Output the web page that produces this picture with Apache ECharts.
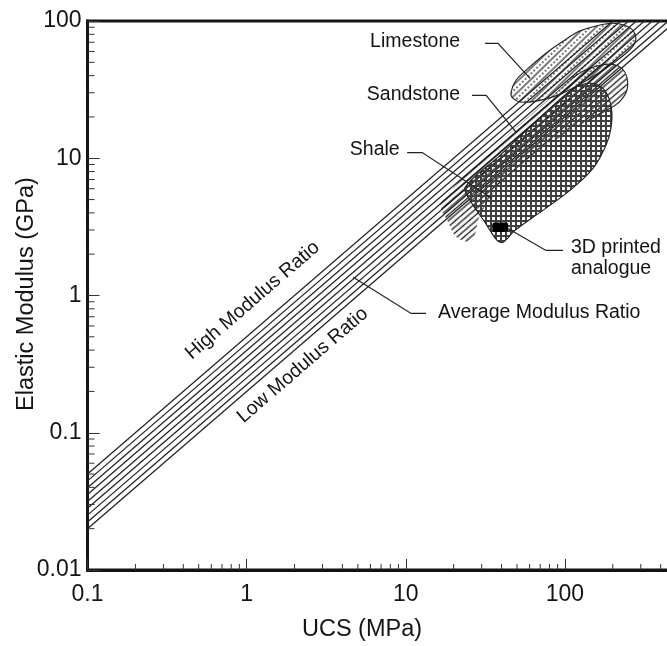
<!DOCTYPE html>
<html>
<head>
<meta charset="utf-8">
<title>Elastic modulus vs UCS</title>
<script src="https://cdn.jsdelivr.net/npm/echarts@6/dist/echarts.min.js"></script>
<style>
  html, body { margin: 0; padding: 0; background: #ffffff; }
  #chart { width: 667px; height: 646px; }
</style>
</head>
<body>
<div id="chart"></div>
<script>
// ---- axes -------------------------------------------------------------
const xTicks = [0.1, 1, 10, 100, 1000];
const xTickLabels = ['0.1', '1', '10', '100', '1000'];
const yTicks = [0.01, 0.1, 1, 10, 100];
const yTickLabels = ['0.01', '0.1', '1', '10', '100'];
const xMinorTicks = [0.2, 0.3, 0.4, 0.5, 0.6, 0.7, 0.8, 0.9,
                     2, 3, 4, 5, 6, 7, 8, 9,
                     20, 30, 40, 50, 60, 70, 80, 90,
                     200, 300, 400, 500, 600, 700, 800, 900];
const yMinorTicks = [0.02, 0.03, 0.04, 0.05, 0.06, 0.07, 0.08, 0.09,
                     0.2, 0.3, 0.4, 0.5, 0.6, 0.7, 0.8, 0.9,
                     2, 3, 4, 5, 6, 7, 8, 9,
                     20, 30, 40, 50, 60, 70, 80, 90];

// ---- modulus ratio band (E / UCS), high 500 down to low 200 -------------
const modulusRatios = [500, 446, 398, 355, 316, 282, 251, 224, 200];

// ---- rock fields: outlines as [UCS (MPa), E (GPa)] ----------------------
const limestoneOutline = [
  [45.9, 30.2], [49.3, 37.0], [58.7, 45.2], [76.1, 58.2], [97.3, 71.1],
  [122.6, 84.1], [154.5, 91.5], [197.6, 96.2], [238.4, 93.0], [267.6, 85.5],
  [279.5, 74.8], [267.6, 65.4], [221.8, 53.5], [166.1, 42.3], [124.4, 34.6],
  [93.2, 29.2], [69.8, 26.4], [53.8, 25.6], [47.2, 27.3]
];
const sandstoneOutline = [
  [16.9, 4.93], [110.8, 38.2], [133.8, 43.7], [166.1, 47.6], [200.4, 48.3],
  [228.3, 45.2], [245.4, 38.9], [245.4, 31.3], [221.8, 26.0], [191.9, 23.1],
  [133.8, 18.3], [69.8, 11.4], [39.1, 6.35], [29.3, 3.84], [26.1, 2.52],
  [21.3, 2.61], [18.5, 3.41]
];
const shaleOutline = [
  [23.6, 6.14], [39.1, 10.5], [64.9, 18.3], [104.6, 30.2], [124.4, 34.0],
  [148.0, 35.1], [173.5, 32.3], [189.2, 27.3], [197.6, 21.6], [194.7, 16.5],
  [181.1, 12.4], [150.2, 8.44], [107.6, 5.83], [69.8, 4.03], [48.6, 2.98],
  [40.9, 2.44], [37.5, 2.52], [31.5, 3.41], [25.4, 4.93]
];
// 3D printed analogue: UCS range and modulus range
const analogueUCS = [35, 44];
const analogueE = [2.9, 3.4];

// ---- annotations ---------------------------------------------------------
const calloutText = ['Limestone', 'Sandstone', 'Shale', '3D printed\nanalogue', 'Average Modulus Ratio'];
const calloutAnchor = [[21.95, 71.1], [21.95, 29.2], [9.16, 11.6], [109.2, 1.88], [15.97, 0.753]];
const calloutAlign = ['right', 'right', 'right', 'left', 'left'];
const calloutLeaders = [
  [[31.5, 68.8], [38.0, 68.8], [60.4, 38.2]],
  [[26.1, 28.7], [32.0, 28.7], [49.3, 15.5]],
  [[10.2, 11.0], [12.7, 11.0], [34.9, 5.1]],
  [[43.9, 3.08], [76.1, 2.13], [97.3, 2.13]],
  [[4.68, 1.36], [10.8, 0.74], [13.4, 0.74]]
];
const bandLabelText = ['High Modulus Ratio', 'Low Modulus Ratio'];
const bandLabelAnchor = [[1.09, 0.92], [2.25, 0.31]];

// ---- layout & style -------------------------------------------------------
const FONT = '"Liberation Sans", Arial, Helvetica, sans-serif';
const INK = '#141414';
const GRID = { left: 87.5, top: 21, width: 636.5, height: 549 };
const DECADES_X = Math.log10(xTicks[xTicks.length - 1] / xTicks[0]);
const DECADES_Y = Math.log10(yTicks[yTicks.length - 1] / yTicks[0]);
// on-screen angle of a constant-ratio line (slope 1 in log-log)
const HATCH_ANGLE = Math.atan((GRID.height / DECADES_Y) / (GRID.width / DECADES_X));

function lineTile(period, lines) {
  const c = document.createElement('canvas');
  c.width = 24; c.height = period;
  const g = c.getContext('2d');
  lines.forEach(l => {
    g.beginPath();
    g.strokeStyle = l.color;
    g.lineWidth = l.width;
    g.setLineDash(l.dash || []);
    g.moveTo(0, l.y); g.lineTo(24, l.y);
    g.stroke();
  });
  return c;
}
function meshTile(cell, w, color) {
  const c = document.createElement('canvas');
  c.width = cell; c.height = cell;
  const g = c.getContext('2d');
  g.fillStyle = color;
  g.fillRect(0, 0, cell, w);
  g.fillRect(0, 0, w, cell);
  return c;
}

const sandstoneFill = {
  image: lineTile(9, [{ y: 1, width: 1.3, color: '#161616' }, { y: 5.5, width: 1.3, color: '#161616' }]),
  repeat: 'repeat', rotation: -HATCH_ANGLE
};
const limestoneFill = {
  image: lineTile(8, [{ y: 1, width: 1.2, color: '#202020' }, { y: 5, width: 1.2, color: '#202020', dash: [2, 2] }]),
  repeat: 'repeat', rotation: -HATCH_ANGLE - 0.06, x: 2, y: 1
};
const shaleFill = { image: meshTile(5, 2, '#404040'), repeat: 'repeat' };

function tickLabel(v, ticks, labels) {
  for (let i = 0; i < ticks.length; i++) {
    if (Math.abs(Math.log10(v) - Math.log10(ticks[i])) < 1e-6) return labels[i];
  }
  return '';
}

// ---- series -------------------------------------------------------------
const bandSeries = modulusRatios.map(mr => ({
  type: 'line',
  name: 'MR ' + mr,
  data: [[xTicks[0], mr * xTicks[0] / 1000], [xTicks[xTicks.length - 1], mr * xTicks[xTicks.length - 1] / 1000]],
  symbol: 'none',
  silent: true,
  clip: true,
  z: 2,
  lineStyle: { color: '#222222', width: 1.25 }
}));

function fieldSeries(name, outline, fill, strokeRange, z) {
  return {
    type: 'custom',
    name: name,
    coordinateSystem: 'cartesian2d',
    silent: true,
    z: z,
    data: outline,
    renderItem(params, api) {
      if (params.dataIndex !== 0) return null;
      const pts = outline.map(p => api.coord(p));
      const children = [{
        type: 'polygon',
        shape: { points: pts, smooth: 0.35 },
        style: { fill: fill, stroke: strokeRange ? null : '#222', lineWidth: 1.1 }
      }];
      if (strokeRange) {
        children.push({
          type: 'polyline',
          shape: { points: pts.slice(strokeRange[0], strokeRange[1] + 1), smooth: 0.35 },
          style: { fill: null, stroke: '#222', lineWidth: 1.1 }
        });
      }
      return { type: 'group', children: children };
    }
  };
}

const minorTickSeries = [
  {
    type: 'custom', name: 'x minor ticks', silent: true, z: 5,
    data: xMinorTicks.map(v => [v, yTicks[0]]),
    renderItem(params, api) {
      const p = api.coord([api.value(0), api.value(1)]);
      return { type: 'line', shape: { x1: p[0], y1: p[1], x2: p[0], y2: p[1] - 6 },
               style: { stroke: '#333', lineWidth: 1 } };
    }
  },
  {
    type: 'custom', name: 'y minor ticks', silent: true, z: 5,
    data: yMinorTicks.map(v => [xTicks[0], v]),
    renderItem(params, api) {
      const p = api.coord([api.value(0), api.value(1)]);
      return { type: 'line', shape: { x1: p[0], y1: p[1], x2: p[0] + 7, y2: p[1] },
               style: { stroke: '#333', lineWidth: 1 } };
    }
  }
];

const analogueSeries = {
  type: 'custom', name: '3D printed analogue', silent: true, z: 6,
  data: [[analogueUCS[0], analogueE[0], analogueUCS[1], analogueE[1]]],
  encode: { x: [0, 2], y: [1, 3] },
  renderItem(params, api) {
    const a = api.coord([api.value(0), api.value(1)]);
    const b = api.coord([api.value(2), api.value(3)]);
    return {
      type: 'rect',
      shape: { x: a[0], y: b[1], width: b[0] - a[0], height: a[1] - b[1], r: 2 },
      style: { fill: '#000' }
    };
  }
};

const leaderSeries = {
  type: 'custom', name: 'leaders', silent: true, z: 7,
  data: calloutLeaders.map(l => l[0]),
  renderItem(params, api) {
    const pts = calloutLeaders[params.dataIndex].map(p => api.coord(p));
    return { type: 'polyline', shape: { points: pts }, style: { fill: null, stroke: '#222', lineWidth: 1.2 } };
  }
};

const calloutSeries = {
  type: 'custom', name: 'callouts', silent: true, z: 8,
  data: calloutAnchor,
  renderItem(params, api) {
    const p = api.coord(calloutAnchor[params.dataIndex]);
    return {
      type: 'text', x: p[0], y: p[1],
      style: {
        text: calloutText[params.dataIndex],
        font: '19.5px ' + FONT, fill: INK,
        textAlign: calloutAlign[params.dataIndex], textVerticalAlign: 'middle',
        lineHeight: 21
      }
    };
  }
};

const bandLabelSeries = {
  type: 'custom', name: 'band labels', silent: true, z: 8,
  data: bandLabelAnchor,
  renderItem(params, api) {
    const p = api.coord(bandLabelAnchor[params.dataIndex]);
    return {
      type: 'text', x: p[0], y: p[1], rotation: HATCH_ANGLE,
      style: {
        text: bandLabelText[params.dataIndex],
        font: '19.5px ' + FONT, fill: INK,
        textAlign: 'center', textVerticalAlign: 'middle'
      }
    };
  }
};

// ---- chart ---------------------------------------------------------------
const chart = echarts.init(document.getElementById('chart'), null, { renderer: 'canvas' });
chart.setOption({
  animation: false,
  backgroundColor: '#ffffff',
  grid: {
    left: GRID.left, top: GRID.top, width: GRID.width, height: GRID.height,
    outerBoundsMode: 'none', containLabel: false,
    show: true, borderColor: INK, borderWidth: 3, backgroundColor: 'transparent'
  },
  xAxis: {
    type: 'log', logBase: 10,
    min: xTicks[0], max: xTicks[xTicks.length - 1],
    axisLine: { show: true, onZero: false, lineStyle: { color: INK, width: 3 } },
    axisTick: { show: true, inside: true, length: 11, lineStyle: { color: '#333', width: 1 } },
    axisLabel: {
      margin: 13, fontSize: 23, fontFamily: FONT, color: INK,
      formatter: v => tickLabel(v, xTicks, xTickLabels)
    },
    splitLine: { show: false }
  },
  yAxis: {
    type: 'log', logBase: 10,
    min: yTicks[0], max: yTicks[yTicks.length - 1],
    axisLine: { show: true, onZero: false, lineStyle: { color: INK, width: 3 } },
    axisTick: { show: true, inside: true, length: 12, lineStyle: { color: '#333', width: 1 } },
    axisLabel: {
      margin: 6, fontSize: 23, fontFamily: FONT, color: INK,
      formatter: v => tickLabel(v, yTicks, yTickLabels)
    },
    splitLine: { show: false }
  },
  graphic: [
    {
      type: 'text', x: 362, y: 630,
      style: { text: 'UCS (MPa)', font: '23.5px ' + FONT, fill: INK, textAlign: 'center', textVerticalAlign: 'middle' }
    },
    {
      type: 'text', x: 27, y: 294, rotation: Math.PI / 2,
      style: { text: 'Elastic Modulus (GPa)', font: '23.5px ' + FONT, fill: INK, textAlign: 'center', textVerticalAlign: 'middle' }
    }
  ],
  series: [
    ...bandSeries,
    fieldSeries('Sandstone', sandstoneOutline, sandstoneFill, [1, 10], 3),
    fieldSeries('Limestone', limestoneOutline, limestoneFill, null, 4),
    fieldSeries('Shale', shaleOutline, shaleFill, null, 5),
    analogueSeries,
    leaderSeries,
    calloutSeries,
    bandLabelSeries,
    ...minorTickSeries
  ]
});
</script>
</body>
</html>
